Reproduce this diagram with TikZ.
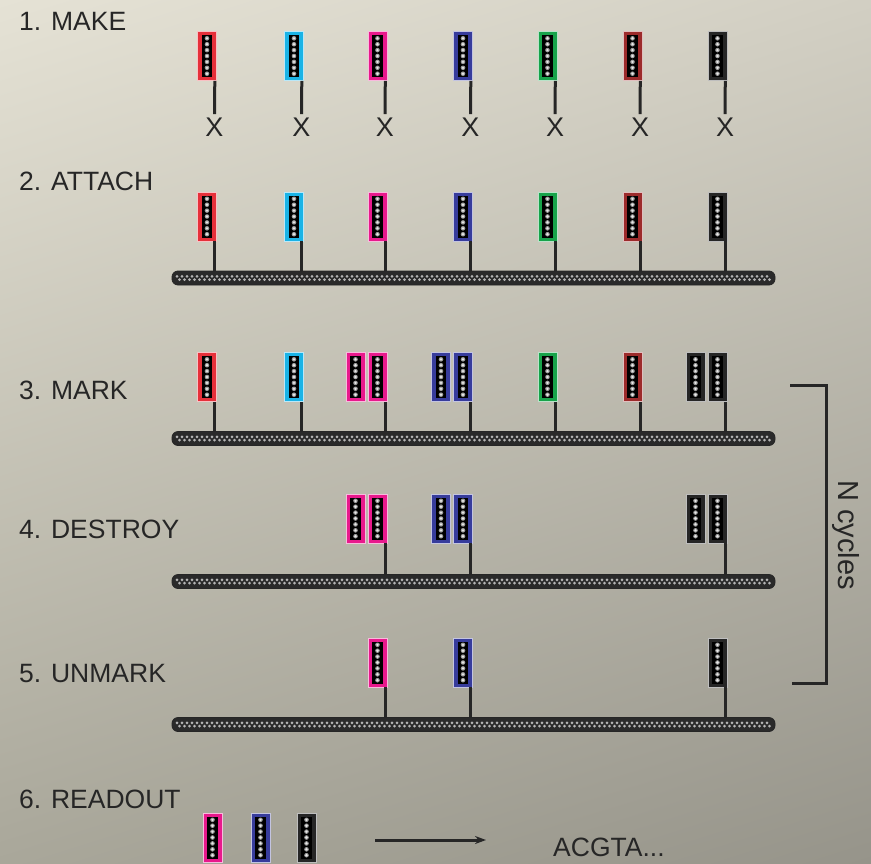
\documentclass[tikz,border=0pt]{standalone}
\usepackage{fontspec}
\setmainfont{Liberation Sans}
\usetikzlibrary{calc,arrows.meta,shadings}
\definecolor{tred}{HTML}{E6303A}
\definecolor{tcyan}{HTML}{1AB3E6}
\definecolor{tmag}{HTML}{E8198C}
\definecolor{tblue}{HTML}{373C9C}
\definecolor{tgreen}{HTML}{17A34A}
\definecolor{tdred}{HTML}{9C2B2B}
\definecolor{tblk}{HTML}{262626}
\definecolor{dotc}{HTML}{9A9A9A}
\definecolor{dotl}{HTML}{E6E6E6}
\definecolor{barc}{HTML}{2A2A2A}
\definecolor{bardot}{HTML}{B4B4B4}
\definecolor{inkc}{HTML}{262626}
\definecolor{bgA}{HTML}{E5E2D5}
\definecolor{bgB}{HTML}{D2CFC3}
\definecolor{bgC}{HTML}{A9A79A}
\definecolor{bgD}{HTML}{96948A}
\tikzset{
  tagbox/.style={draw=white!70!#1, line width=0.6pt, fill=#1, minimum width=19pt,
    minimum height=49pt, inner sep=0pt,
    path picture={
      \fill[black] ([shift={(4.3pt,-3.5pt)}]path picture bounding box.north west)
        rectangle ([shift={(-4.3pt,3.5pt)}]path picture bounding box.south east);
      \foreach \k in {0,...,6}{
        \fill[dotc] ([yshift={-6.8pt-\k*5.9pt}]path picture bounding box.north) circle (2.3pt);
        \fill[dotl] ([yshift={-6.8pt-\k*5.9pt}]path picture bounding box.north) circle (1.3pt);}
    }},
  barnode/.style={rounded corners=6pt, fill=barc, draw=inkc, line width=0.8pt,
    minimum width=603pt, minimum height=14pt, inner sep=0pt,
    path picture={
      \draw[bardot, line width=3pt, line cap=round, dash pattern=on 0pt off 5pt]
        ([xshift=5pt,yshift=1.6pt]path picture bounding box.west) -- ([xshift=-5pt,yshift=1.6pt]path picture bounding box.east);
      \draw[bardot, line width=3pt, line cap=round, dash pattern=on 0pt off 5pt, dash phase=2.5pt]
        ([xshift=5pt,yshift=-1.6pt]path picture bounding box.west) -- ([xshift=-5pt,yshift=-1.6pt]path picture bounding box.east);
    }},
  stemline/.style={draw=inkc, line width=3pt},
  lbl/.style={text=inkc, font=\fontsize{26.5}{30}\selectfont, inner sep=0pt, anchor=base west},
  xlbl/.style={text=inkc, font=\fontsize{27}{30}\selectfont, inner sep=4pt},
}
\begin{document}
\begin{tikzpicture}[x=1pt,y=-1pt]
\useasboundingbox (0,0) rectangle (871,863);
\shade[upper left=bgA, upper right=bgB, lower left=bgC, lower right=bgD] (0,0) rectangle (871,863);

% labels
\node[lbl] (l1) at (19,30) {1. MAKE};
\node[lbl] (l2) at (19,190) {2. ATTACH};
\node[lbl] (l3) at (19,399) {3. MARK};
\node[lbl] (l4) at (19,538) {4. DESTROY};
\node[lbl] (l5) at (19,682) {5. UNMARK};
\node[lbl] (l6) at (19,808) {6. READOUT};

% row 1: make
\foreach \c/\x/\n in {tred/207/r, tcyan/294/c, tmag/377.5/m, tblue/463/b, tgreen/547.5/g, tdred/632.5/d, tblk/717.5/k}{
  \node[tagbox=\c] (a\n) at (\x,56) {};
  \node[xlbl] (x\n) at ({\x+7.5},127.5) {X};
  \draw[stemline] ([xshift=-2pt]a\n.south east) -- (x\n.north);
}

% row 2: attach
\node[barnode] (b2) at (473.5,278) {};
\foreach \c/\x/\n in {tred/207/r, tcyan/294/c, tmag/377.5/m, tblue/463/b, tgreen/547.5/g, tdred/632.5/d, tblk/717.5/k}{
  \node[tagbox=\c] (s\n) at (\x,216.5) {};
  \draw[stemline] ([xshift=-2pt]s\n.south east) -- ([xshift=-2pt]s\n.south east |- b2.north);
}

% row 3: mark
\node[barnode] (b3) at (473.5,438.5) {};
\foreach \c/\x/\n in {tred/207/r, tcyan/294/c, tmag/377.5/m, tblue/463/b, tgreen/547.5/g, tdred/632.5/d, tblk/717.5/k}{
  \node[tagbox=\c] (m\n) at (\x,377) {};
  \draw[stemline] ([xshift=-2pt]m\n.south east) -- ([xshift=-2pt]m\n.south east |- b3.north);
}
\node[tagbox=tmag] (mm2) at (355.5,377) {};
\node[tagbox=tblue] (mb2) at (441,377) {};
\node[tagbox=tblk] (mk2) at (695.5,377) {};

% row 4: destroy
\node[barnode] (b4) at (473.5,581.5) {};
\foreach \c/\x/\n in {tmag/377.5/m, tblue/463/b, tblk/717.5/k}{
  \node[tagbox=\c] (d\n) at (\x,518.5) {};
  \draw[stemline] ([xshift=-2pt]d\n.south east) -- ([xshift=-2pt]d\n.south east |- b4.north);
}
\node[tagbox=tmag] (dm2) at (355.5,518.5) {};
\node[tagbox=tblue] (db2) at (441,518.5) {};
\node[tagbox=tblk] (dk2) at (695.5,518.5) {};

% row 5: unmark
\node[barnode] (b5) at (473.5,724.5) {};
\foreach \c/\x/\n in {tmag/377.5/m, tblue/463/b, tblk/717.5/k}{
  \node[tagbox=\c] (u\n) at (\x,662.5) {};
  \draw[stemline] ([xshift=-2pt]u\n.south east) -- ([xshift=-2pt]u\n.south east |- b5.north);
}

% row 6: readout
\node[tagbox=tmag] (rm) at (212.5,837.5) {};
\node[tagbox=tblue] (rb) at (260.5,837.5) {};
\node[tagbox=tblk] (rk) at (306.5,837.5) {};
\coordinate (ra) at (375,840);
\coordinate (rz) at (486,840);
\draw[stemline, -{Stealth[length=11pt,width=8pt]}] (ra) -- (rz);
\node[lbl] (seq) at (553,856) {ACGTA...};

% bracket
\coordinate (k1) at (790,385);
\coordinate (k2) at (826,385);
\coordinate (k3) at (826,683);
\coordinate (k4) at (792,683);
\draw[stemline] (k1) -- (k2) -- (k3) -- (k4);
\node[text=inkc, font=\fontsize{29}{32}\selectfont, inner sep=0pt, rotate=-90, anchor=base] (nc) at (838,535) {N cycles};
\end{tikzpicture}
\end{document}
